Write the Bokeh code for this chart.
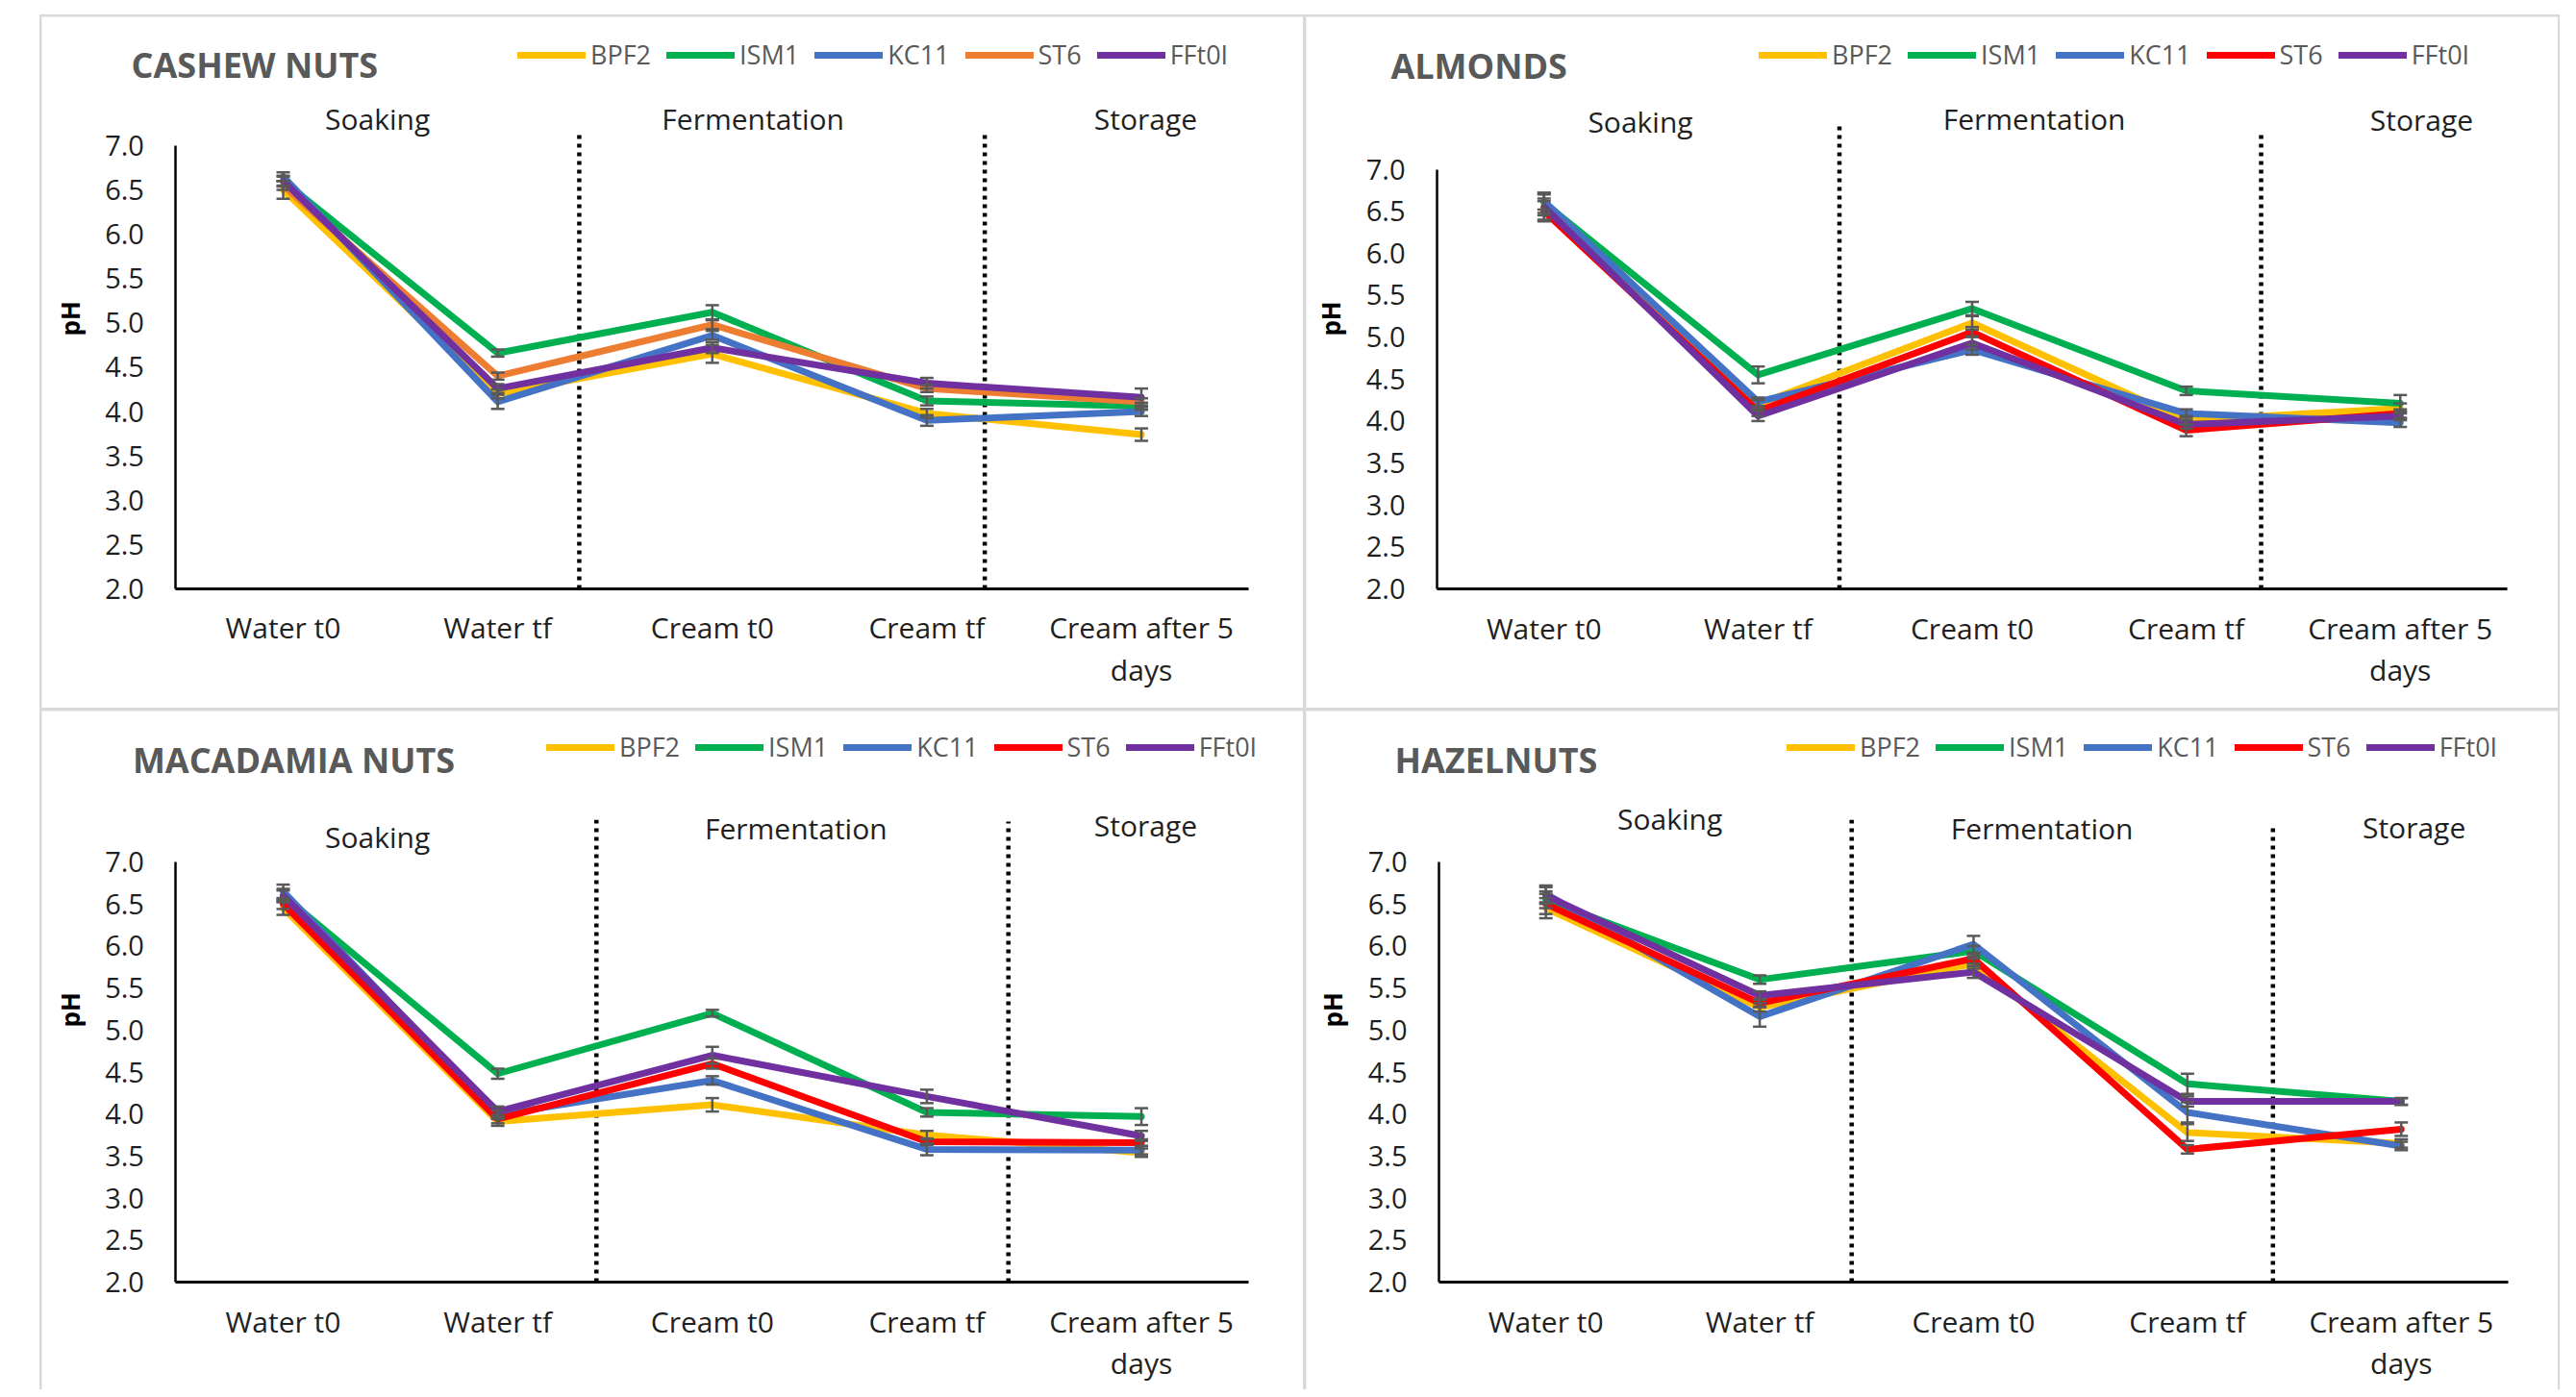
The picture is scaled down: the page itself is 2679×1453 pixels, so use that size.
from math import pi
from bokeh.plotting import figure
from bokeh.models import (ColumnDataSource, Whisker, TeeHead, Label, Legend, LegendItem,
                          Range1d, FixedTicker, NumeralTickFormatter)
from bokeh.layouts import row, column
from bokeh.embed import file_html
from bokeh.resources import INLINE

# ---------------- data ----------------
categories = ["Water t0", "Water tf", "Cream t0", "Cream tf", "Cream after 5\ndays"]
strains = ["BPF2", "ISM1", "KC11", "ST6", "FFt0I"]
phases = ["Soaking", "Fermentation", "Storage"]
y_ticks = [2.0, 2.5, 3.0, 3.5, 4.0, 4.5, 5.0, 5.5, 6.0, 6.5, 7.0]

cashew_bpf2 = [6.50, 4.20, 4.65, 3.98, 3.74]
cashew_ism1 = [6.60, 4.66, 5.12, 4.12, 4.06]
cashew_kc11 = [6.65, 4.11, 4.86, 3.90, 4.00]
cashew_st6 = [6.55, 4.40, 4.98, 4.26, 4.11]
cashew_fft0i = [6.60, 4.26, 4.72, 4.32, 4.16]
cashew_bpf2_err = [0.10, 0.05, 0.10, 0.05, 0.07]
cashew_ism1_err = [0.05, 0.04, 0.08, 0.05, 0.04]
cashew_kc11_err = [0.05, 0.08, 0.05, 0.06, 0.05]
cashew_st6_err = [0.05, 0.04, 0.05, 0.04, 0.04]
cashew_fft0i_err = [0.06, 0.05, 0.06, 0.06, 0.10]

almonds_bpf2 = [6.55, 4.20, 5.17, 4.01, 4.15]
almonds_ism1 = [6.60, 4.55, 5.34, 4.36, 4.21]
almonds_kc11 = [6.62, 4.23, 4.85, 4.09, 3.98]
almonds_st6 = [6.50, 4.12, 5.06, 3.89, 4.09]
almonds_fft0i = [6.55, 4.06, 4.93, 3.96, 4.06]
almonds_bpf2_err = [0.15, 0.05, 0.08, 0.05, 0.06]
almonds_ism1_err = [0.12, 0.10, 0.08, 0.05, 0.10]
almonds_kc11_err = [0.10, 0.05, 0.06, 0.05, 0.05]
almonds_st6_err = [0.12, 0.06, 0.06, 0.07, 0.05]
almonds_fft0i_err = [0.10, 0.06, 0.08, 0.05, 0.05]

macadamia_bpf2 = [6.45, 3.91, 4.11, 3.75, 3.54]
macadamia_ism1 = [6.60, 4.48, 5.20, 4.02, 3.97]
macadamia_kc11 = [6.65, 3.99, 4.40, 3.58, 3.57]
macadamia_st6 = [6.50, 3.94, 4.60, 3.67, 3.66]
macadamia_fft0i = [6.60, 4.03, 4.70, 4.21, 3.74]
macadamia_bpf2_err = [0.08, 0.05, 0.08, 0.05, 0.05]
macadamia_ism1_err = [0.06, 0.06, 0.04, 0.05, 0.10]
macadamia_kc11_err = [0.08, 0.05, 0.05, 0.07, 0.05]
macadamia_st6_err = [0.06, 0.05, 0.06, 0.04, 0.04]
macadamia_fft0i_err = [0.08, 0.06, 0.10, 0.08, 0.06]

hazelnuts_bpf2 = [6.45, 5.27, 5.79, 3.78, 3.65]
hazelnuts_ism1 = [6.55, 5.60, 5.94, 4.36, 4.15]
hazelnuts_kc11 = [6.62, 5.16, 6.02, 4.02, 3.62]
hazelnuts_st6 = [6.50, 5.32, 5.85, 3.58, 3.82]
hazelnuts_fft0i = [6.60, 5.41, 5.69, 4.15, 4.15]
hazelnuts_bpf2_err = [0.12, 0.05, 0.06, 0.10, 0.05]
hazelnuts_ism1_err = [0.10, 0.05, 0.06, 0.12, 0.04]
hazelnuts_kc11_err = [0.10, 0.12, 0.10, 0.12, 0.05]
hazelnuts_st6_err = [0.12, 0.05, 0.06, 0.05, 0.08]
hazelnuts_fft0i_err = [0.10, 0.05, 0.07, 0.06, 0.04]

# category positions on the x scale (one unit per category)
x_pos = list(range(1, len(categories) + 1))

# ---------------- styling / layout ----------------
FONT = "Open Sans"
colors_main = ["#FFC000", "#00B050", "#4472C4", "#FF0000", "#7030A0"]
colors_cashew = ["#FFC000", "#00B050", "#4472C4", "#ED7D31", "#7030A0"]

panels = [
    dict(title="CASHEW NUTS", colors=colors_cashew,
         series=[cashew_bpf2, cashew_ism1, cashew_kc11, cashew_st6, cashew_fft0i],
         errors=[cashew_bpf2_err, cashew_ism1_err, cashew_kc11_err, cashew_st6_err, cashew_fft0i_err],
         w=1312, h=719, xr=(-0.125, 5.755), yr=(0.655, 8.453),
         phase_x=[1.44, 3.19, 5.02], phase_y=[7.30, 7.30, 7.30],
         div_x=[2.38, 4.27], div_top=[7.17, 7.17],
         title_xy=(0.292, 7.911), ph_xy=(0.008, 5.05), legend_loc=(495, 661)),
    dict(title="ALMONDS", colors=colors_main,
         series=[almonds_bpf2, almonds_ism1, almonds_kc11, almonds_st6, almonds_fft0i],
         errors=[almonds_bpf2_err, almonds_ism1_err, almonds_kc11_err, almonds_st6_err, almonds_fft0i_err],
         w=1302, h=719, xr=(-0.111, 5.738), yr=(0.580, 8.816),
         phase_x=[1.45, 3.29, 5.10], phase_y=[7.57, 7.60, 7.59],
         div_x=[2.38, 4.35], div_top=[7.56, 7.44],
         title_xy=(0.284, 8.231), ph_xy=(0.005, 5.22), legend_loc=(471, 661)),
    dict(title="MACADAMIA NUTS", colors=colors_main,
         series=[macadamia_bpf2, macadamia_ism1, macadamia_kc11, macadamia_st6, macadamia_fft0i],
         errors=[macadamia_bpf2_err, macadamia_ism1_err, macadamia_kc11_err, macadamia_st6_err, macadamia_fft0i_err],
         w=1312, h=706, xr=(-0.125, 5.755), yr=(0.719, 8.796),
         phase_x=[1.44, 3.39, 5.02], phase_y=[7.30, 7.40, 7.43],
         div_x=[2.46, 4.38], div_top=[7.50, 7.48],
         title_xy=(0.298, 8.213), ph_xy=(0.008, 5.24), legend_loc=(525, 650)),
    dict(title="HAZELNUTS", colors=colors_main,
         series=[hazelnuts_bpf2, hazelnuts_ism1, hazelnuts_kc11, hazelnuts_st6, hazelnuts_fft0i],
         errors=[hazelnuts_bpf2_err, hazelnuts_ism1_err, hazelnuts_kc11_err, hazelnuts_st6_err, hazelnuts_fft0i_err],
         w=1302, h=706, xr=(-0.1205, 5.734), yr=(0.719, 8.796),
         phase_x=[1.58, 3.32, 5.06], phase_y=[7.51, 7.40, 7.41],
         div_x=[2.43, 4.40], div_top=[7.50, 7.45],
         title_xy=(0.293, 8.213), ph_xy=(0.005, 5.24), legend_loc=(500, 650)),
]


def make_panel(cfg):
    p = figure(x_range=Range1d(*cfg["xr"]), y_range=Range1d(*cfg["yr"]),
               frame_width=cfg["w"], frame_height=cfg["h"], min_border=0,
               output_backend="svg", toolbar_location=None,
               background_fill_color="white", border_fill_color="white")
    p.outline_line_color = None
    p.grid.visible = False

    # y axis (drawn at the left edge of the category span)
    yax = p.yaxis[0]
    yax.fixed_location = x_pos[0] - 0.5
    yax.ticker = FixedTicker(ticks=y_ticks)
    yax.formatter = NumeralTickFormatter(format="0.0")
    yax.bounds = (y_ticks[0], y_ticks[-1])
    yax.axis_line_width = 2.5
    yax.axis_line_color = "black"
    yax.major_tick_out = 0
    yax.major_tick_in = 0
    yax.minor_tick_out = 0
    yax.minor_tick_in = 0
    yax.major_label_standoff = 33
    yax.major_label_text_font = FONT
    yax.major_label_text_font_size = "29px"
    yax.major_label_text_color = "#1f1f1f"

    # x axis (categories)
    xax = p.xaxis[0]
    xax.fixed_location = y_ticks[0]
    xax.ticker = FixedTicker(ticks=x_pos)
    xax.major_label_overrides = {xp: c for xp, c in zip(x_pos, categories)}
    xax.bounds = (x_pos[0] - 0.5, x_pos[-1] + 0.5)
    xax.axis_line_width = 3
    xax.axis_line_color = "black"
    xax.major_tick_out = 0
    xax.major_tick_in = 0
    xax.minor_tick_out = 0
    xax.minor_tick_in = 0
    xax.major_label_standoff = 20
    xax.major_label_text_font = FONT
    xax.major_label_text_font_size = "30px"
    xax.major_label_text_color = "#1f1f1f"
    xax.major_label_text_line_height = 1.05

    # phase dividers
    p.segment(x0=cfg["div_x"], y0=[y_ticks[0]] * 2, x1=cfg["div_x"], y1=cfg["div_top"],
              line_color="black", line_width=4.5, line_dash="4 5")

    # phase labels
    for name, px, py in zip(phases, cfg["phase_x"], cfg["phase_y"]):
        p.add_layout(Label(x=px, y=py, text=name, text_align="center",
                           text_baseline="middle", text_font=FONT,
                           text_font_size="30px", text_color="#1f1f1f"))

    # series with error bars
    items = []
    for name, vals, errs, col in zip(strains, cfg["series"], cfg["errors"], cfg["colors"]):
        r = p.line(x=x_pos, y=vals, line_color=col, line_width=7,
                   line_join="round", line_cap="round")
        src = ColumnDataSource(dict(base=x_pos,
                                    lower=[v - e for v, e in zip(vals, errs)],
                                    upper=[v + e for v, e in zip(vals, errs)]))
        w = Whisker(source=src, base="base", lower="lower", upper="upper",
                    line_color="#595959", line_width=2.5, level="glyph",
                    upper_head=TeeHead(size=14, line_color="#595959", line_width=2.5),
                    lower_head=TeeHead(size=14, line_color="#595959", line_width=2.5))
        p.add_layout(w)
        items.append(LegendItem(label=name, renderers=[r]))

    legend = Legend(items=items, location=cfg["legend_loc"], orientation="horizontal",
                    glyph_width=71, glyph_height=36, label_height=36,
                    label_standoff=5, spacing=16, padding=0, margin=0,
                    border_line_color=None, background_fill_alpha=0,
                    label_text_font=FONT, label_text_font_size="27px",
                    label_text_color="#595959")
    p.add_layout(legend)

    # panel title
    tx, ty = cfg["title_xy"]
    p.add_layout(Label(x=tx, y=ty, text=cfg["title"], text_align="left",
                       text_baseline="middle", text_font=FONT,
                       text_font_size="36px", text_font_style="bold",
                       text_color="#595959"))
    # y axis title
    hx, hy = cfg["ph_xy"]
    p.add_layout(Label(x=hx, y=hy, text="pH", angle=pi / 2, text_align="center",
                       text_baseline="middle", text_font=FONT,
                       text_font_size="26px", text_font_style="bold",
                       text_color="black"))
    return p


figs = [make_panel(c) for c in panels]

layout = column(row(figs[0], figs[1], spacing=3),
                row(figs[2], figs[3], spacing=3),
                spacing=3, margin=(15, 0, 0, 41),
                styles={"background-color": "#d9d9d9", "padding": "2px 2px 0px 2px"})

open("out.html", "w").write(file_html(layout, INLINE))
